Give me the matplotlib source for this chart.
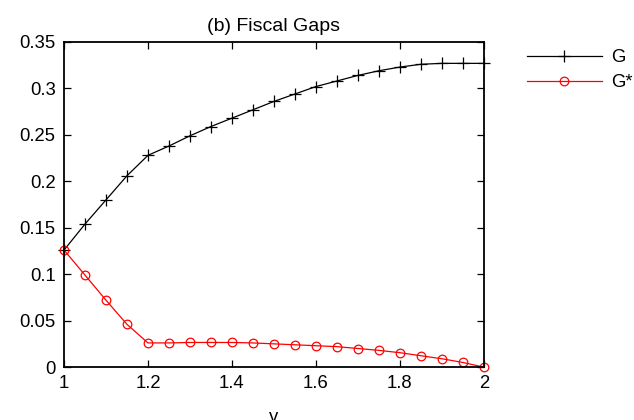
import matplotlib
matplotlib.use("Agg")
import matplotlib.pyplot as plt

plt.rcParams['font.family'] = ['Liberation Sans', 'DejaVu Sans']

gamma = [1.00, 1.05, 1.10, 1.15, 1.20, 1.25, 1.30, 1.35, 1.40, 1.45, 1.50,
         1.55, 1.60, 1.65, 1.70, 1.75, 1.80, 1.85, 1.90, 1.95, 2.00]
G = [0.126, 0.154, 0.180, 0.206, 0.228, 0.238, 0.249, 0.259, 0.268, 0.277, 0.286,
     0.294, 0.302, 0.308, 0.314, 0.319, 0.323, 0.326, 0.327, 0.327, 0.327]
G_star = [0.126, 0.099, 0.072, 0.046, 0.026, 0.026, 0.0265, 0.0265, 0.0265, 0.026, 0.025,
          0.024, 0.023, 0.022, 0.020, 0.018, 0.0155, 0.0122, 0.009, 0.005, 0.0]
xticks = [1, 1.2, 1.4, 1.6, 1.8, 2]
xticklabels = ["1", "1.2", "1.4", "1.6", "1.8", "2"]
yticks = [0, 0.05, 0.1, 0.15, 0.2, 0.25, 0.3, 0.35]
yticklabels = ["0", "0.05", "0.1", "0.15", "0.2", "0.25", "0.3", "0.35"]

fig = plt.figure(figsize=(6.34, 4.2), dpi=100)
ax = fig.add_axes([0.101, 0.126, 0.662, 0.774])
ax.plot(gamma, G, color="black", lw=0.9, marker="+", ms=8, mew=0.9, label="G", clip_on=False)
ax.plot(gamma, G_star, color="red", lw=0.9, marker="o", ms=6.2, mfc="none", mew=0.9, label="G*", clip_on=False)
ax.set_xlim(1, 2); ax.set_ylim(0, 0.35)
ax.set_xticks(xticks); ax.set_xticklabels(xticklabels)
ax.set_yticks(yticks); ax.set_yticklabels(yticklabels)
ax.tick_params(direction="in", top=True, right=True, length=5, width=0.9, labelsize=13.3, pad=6)
for s in ax.spines.values():
    s.set_linewidth(1.3)
ax.set_title("(b) Fiscal Gaps", fontsize=14, pad=8)
fig.text(0.432, -0.014, "γ", ha="center", va="bottom", fontsize=13.3)
ax.legend(loc="upper left", bbox_to_anchor=(1.102, 0.977), frameon=False, fontsize=13.3,
          borderpad=0, borderaxespad=0, handlelength=4.1, handletextpad=0.5, labelspacing=0.42)
fig.savefig("out.png", dpi=100)
